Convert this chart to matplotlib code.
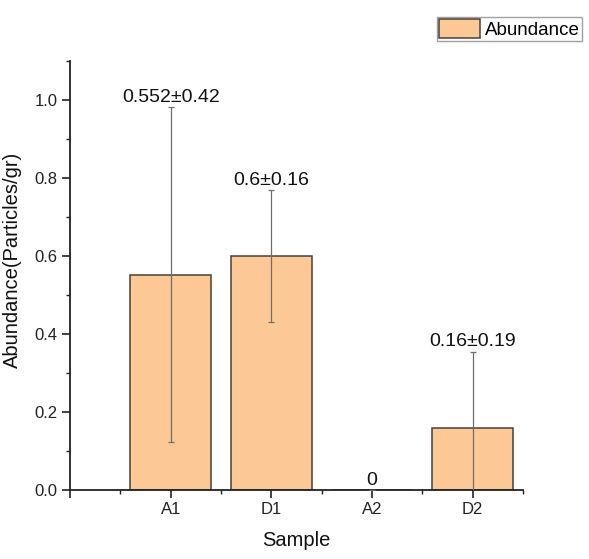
import matplotlib
matplotlib.use("Agg")
import matplotlib.pyplot as plt
from matplotlib.ticker import MultipleLocator, FixedLocator, FormatStrFormatter
import numpy as np

plt.rcParams['font.family'] = ['Liberation Sans', 'DejaVu Sans']

categories = ["A1", "D1", "A2", "D2"]
values = [0.552, 0.6, 0.0, 0.16]
errors = [0.43, 0.168, 0.0, 0.195]
value_labels = ["0.552\u00b10.42", "0.6\u00b10.16", "0", "0.16\u00b10.19"]

fig = plt.figure(figsize=(5.89, 5.59), dpi=100)
ax = fig.add_axes([70/589, 1-490/559, (523-70)/589, (490-61)/559])

x = np.arange(1, len(categories) + 1)
bar_color = '#FCC896'
edge_color = '#4a4038'
bars = ax.bar(x, values, width=0.8, color=bar_color, edgecolor=edge_color,
              linewidth=1.1, label='Abundance', zorder=2)
ax.errorbar(x, values, yerr=errors, fmt='none', ecolor='#6e6e6e',
            elinewidth=0.9, capsize=2.5, capthick=0.9, zorder=3)

for xi, v, e, lab in zip(x, values, errors, value_labels):
    ax.annotate(lab, xy=(xi, v + e), xytext=(0, 1), textcoords='offset points',
                ha='center', va='bottom', fontsize=14, color='#111111')

ax.set_xlim(0, 4.5)
ax.set_ylim(0, 1.1)
ax.xaxis.set_major_locator(FixedLocator([0, 1, 2, 3, 4]))
ax.set_xticklabels([""] + categories)
ax.xaxis.set_minor_locator(FixedLocator([0.5, 1.5, 2.5, 3.5, 4.5]))
ax.yaxis.set_major_locator(MultipleLocator(0.2))
ax.yaxis.set_minor_locator(FixedLocator([0.1, 0.3, 0.5, 0.7, 0.9, 1.1]))
ax.yaxis.set_major_formatter(FormatStrFormatter('%.1f'))

for s in ['top', 'right']:
    ax.spines[s].set_visible(False)
for s in ['left', 'bottom']:
    ax.spines[s].set_linewidth(1.3)
    ax.spines[s].set_color('#222222')

ax.tick_params(which='major', direction='out', length=6, width=1.2,
               labelsize=12, color='#222222', labelcolor='#222222', pad=3)
ax.tick_params(which='minor', direction='out', length=3, width=1.0, color='#222222')

ax.set_xlabel("Sample", fontsize=14.5, labelpad=10, color='#111111')
ax.set_ylabel("Abundance(Particles/gr)", fontsize=14.5, color='#111111')
ax.yaxis.set_label_coords(-0.105, 0.536)

leg = fig.legend(handles=[bars], labels=['Abundance'], loc='upper right',
                 bbox_to_anchor=(582/589, 1-17/559), fontsize=13.5,
                 frameon=True, fancybox=False, handlelength=2.2, handleheight=1.2,
                 handletextpad=0.25, borderpad=0.12, borderaxespad=0)
leg.get_frame().set_edgecolor('#888888')
leg.get_frame().set_linewidth(1.0)

fig.savefig("out.png", dpi=100)
